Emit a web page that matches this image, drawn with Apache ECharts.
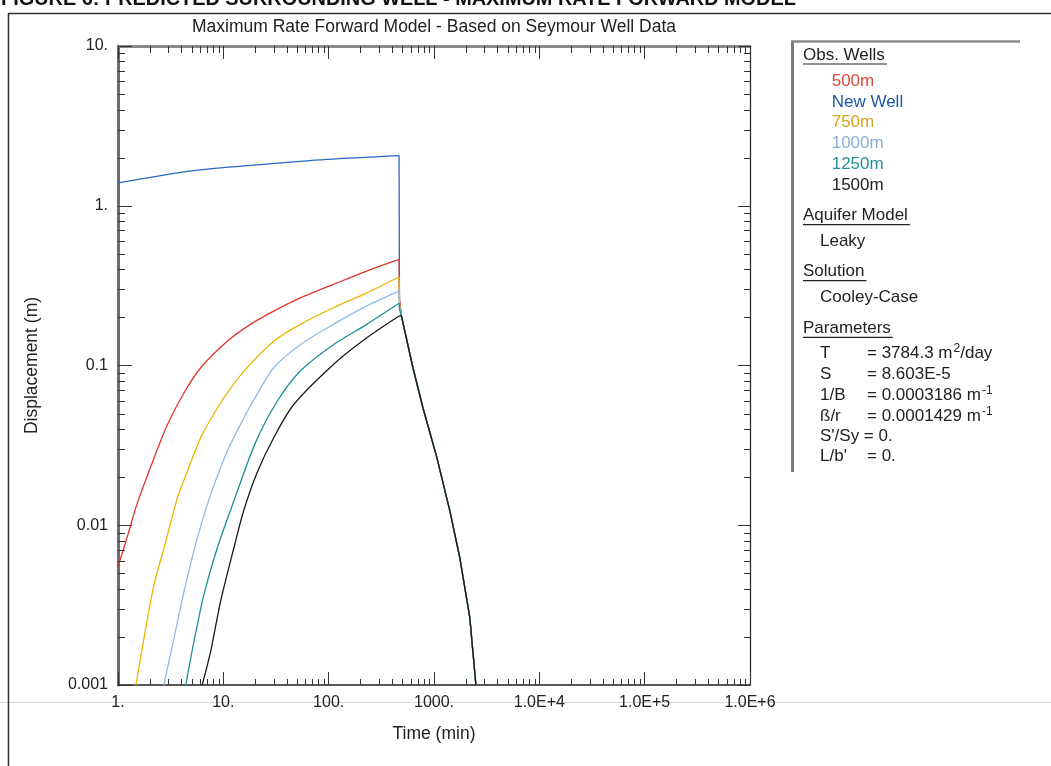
<!DOCTYPE html>
<html>
<head>
<meta charset="utf-8">
<script src="https://cdn.jsdelivr.net/npm/echarts@6/dist/echarts.min.js"></script>
<style>
html,body{margin:0;padding:0;background:#fff;}
#chart{width:1051px;height:766px;}
</style>
</head>
<body>
<div id="chart"></div>
<script>
// ---------- data ----------
const tNew  = [1, 5.27, 22.5, 96.4, 466];
const sNew  = [1.39, 1.66, 1.81, 1.95, 2.06];

const t500  = [1, 1.24, 1.54, 2.2, 2.95, 4.24, 6.1, 10.9, 18.1, 30.1, 53.8, 111, 230, 466];
const s500  = [0.0055, 0.0087, 0.0140, 0.0264, 0.0427, 0.0675, 0.0968, 0.142, 0.181, 0.219, 0.265, 0.322, 0.390, 0.461];

const t750  = [1.48, 1.77, 2.2, 2.74, 3.67, 4.56, 6.1, 8.15, 10.1, 15.7, 30.1, 53.8, 111, 230, 466];
const s750  = [0.001, 0.00198, 0.00426, 0.00723, 0.0149, 0.0218, 0.0353, 0.0500, 0.0628, 0.0923, 0.142, 0.181, 0.230, 0.285, 0.358];

const t1000 = [2.72, 3.41, 4.24, 5.67, 7.59, 10.9, 15.7, 18.1, 30.1, 53.8, 111, 230, 466];
const s1000 = [0.001, 0.00198, 0.00387, 0.00835, 0.0156, 0.0291, 0.0471, 0.0560, 0.0968, 0.135, 0.181, 0.236, 0.292];

const t1250 = [4.4, 5.27, 6.55, 8.77, 12.6, 20.2, 32.4, 53.8, 111, 230, 466];
const s1250 = [0.001, 0.00188, 0.00369, 0.00723, 0.0142, 0.0329, 0.0595, 0.0923, 0.135, 0.181, 0.245];

const t1500 = [6.3, 7.59, 9.43, 12.6, 15.7, 21, 30.1, 46.6, 111, 230, 466];
const s1500 = [0.001, 0.00163, 0.00335, 0.00723, 0.0125, 0.0215, 0.0353, 0.057, 0.1016, 0.149, 0.204];

// value right after pumping stops (near-vertical drop), per series
const dropT = 470;
const dropNew = 0.26, drop500 = 0.26, drop750 = 0.245, drop1000 = 0.235, drop1250 = 0.225;

// common recovery curve
const recT = [490, 631, 785, 1065, 1414, 1758, 2187, 2500];
const recS = [0.205, 0.0968, 0.0544, 0.0265, 0.0123, 0.00626, 0.00264, 0.001];

const seriesNames = ['500m', 'New Well', '750m', '1000m', '1250m', '1500m'];
const xTickLabels = ['1.', '10.', '100.', '1000.', '1.0E+4', '1.0E+5', '1.0E+6'];
const yTickLabels = ['0.001', '0.01', '0.1', '1.', '10.'];
const xDecades = [1, 10, 100, 1000, 10000, 100000];
const yDecades = [0.001, 0.01, 0.1, 1];
const minorMultipliers = [2, 3, 4, 5, 6, 7, 8, 9];

const paramLabels = ['T', 'S', '1/B', '\u00DF/r'];
const paramValues = ['= 3784.3 m{sup|2}/day', '= 8.603E-5', '= 0.0003186 m{sup|-1}', '= 0.0001429 m{sup|-1}'];

// ---------- helpers ----------
const X_MIN = 1, X_MAX = 1e6, Y_MIN = 0.001, Y_MAX = 10;
const FONT = '"Liberation Sans", Arial, sans-serif';
function pairs(t, s) { return t.map((x, i) => [x, s[i]]); }
function recovery(t, s, drop) {
  const last = t.length - 1;
  let d = [[t[last], s[last]]];
  if (drop != null) d.push([dropT, drop]);
  return d.concat(pairs(recT, recS));
}
const xMinor = [], yMinor = [];
xDecades.forEach(d => minorMultipliers.forEach(m => xMinor.push([d * m, Y_MIN])));
yDecades.forEach(d => minorMultipliers.forEach(m => yMinor.push([X_MIN, d * m])));

const colors = {
  '500m': '#e0362c', 'New Well': '#2a68c4', '750m': '#f0b400',
  '1000m': '#8fbbe6', '1250m': '#1c8f9b', '1500m': '#1a1a1a'
};
const textColors = {
  '500m': '#e0453a', 'New Well': '#1f56a8', '750m': '#d6a21c',
  '1000m': '#86aed8', '1250m': '#23909a', '1500m': '#222'
};

const measureCtx = document.createElement('canvas').getContext('2d');
function textWidth(txt, size) { measureCtx.font = size + 'px ' + FONT; return measureCtx.measureText(txt).width; }

function lineSeries(name, data, smooth, z) {
  return {
    name: name, type: 'line', data: data, showSymbol: false, symbol: 'none',
    smooth: smooth,
    lineStyle: { color: colors[name], width: 1.3 }, itemStyle: { color: colors[name] },
    animation: false, z: z
  };
}

// ---------- graphic (legend panel text etc.) ----------
const LSIZE = 17;
const graphics = [];
graphics.push({ type: 'line', shape: { x1: 8, y1: 13.5, x2: 1051, y2: 13.5 }, style: { stroke: '#333', lineWidth: 1.5 } });
graphics.push({ type: 'line', shape: { x1: 8.5, y1: 13, x2: 8.5, y2: 766 }, style: { stroke: '#333', lineWidth: 1.5 } });
graphics.push({ type: 'line', shape: { x1: 0, y1: 702.5, x2: 1051, y2: 702.5 }, style: { stroke: '#d4d4d4', lineWidth: 1 }, z: -1 });
graphics.push({ type: 'text', x: 1, y: 0, style: { text: 'FIGURE 6: PREDICTED SURROUNDING WELL - MAXIMUM RATE FORWARD MODEL', font: 'bold 19.9px ' + FONT, fill: '#111', verticalAlign: 'middle' } });
graphics.push({ type: 'line', shape: { x1: 792.5, y1: 41, x2: 792.5, y2: 472 }, style: { stroke: '#7a7a7a', lineWidth: 3 } });
graphics.push({ type: 'line', shape: { x1: 791, y1: 41.5, x2: 1020, y2: 41.5 }, style: { stroke: '#8a8a8a', lineWidth: 2.5 } });

const headings = [['Obs. Wells', 55], ['Aquifer Model', 215.7], ['Solution', 271.7], ['Parameters', 328.3]];
headings.forEach(h => {
  graphics.push({ type: 'text', x: 803, y: h[1], style: { text: h[0], fontSize: LSIZE, fontFamily: FONT, fill: '#222', verticalAlign: 'middle' } });
  const w = textWidth(h[0], LSIZE);
  graphics.push({ type: 'line', shape: { x1: 803, y1: h[1] + 9, x2: 803 + w + 2, y2: h[1] + 9 }, style: { stroke: '#222', lineWidth: 1.2 } });
});
graphics.push({ type: 'text', x: 820, y: 241.7, style: { text: 'Leaky', fontSize: LSIZE, fontFamily: FONT, fill: '#222', verticalAlign: 'middle' } });
graphics.push({ type: 'text', x: 820, y: 297.7, style: { text: 'Cooley-Case', fontSize: LSIZE, fontFamily: FONT, fill: '#222', verticalAlign: 'middle' } });

const paramY = [353.5, 374.5, 395.3, 416.2, 436.5, 456.5];
const richStyle = {
  n: { fontSize: LSIZE, fontFamily: FONT, fill: '#222', lineHeight: 22 },
  sup: { fontSize: 12, fontFamily: FONT, fill: '#222', verticalAlign: 'top', lineHeight: 12, padding: [0, 0, 0, 1] }
};
paramLabels.forEach((lab, i) => {
  graphics.push({ type: 'text', x: 820, y: paramY[i], style: { text: lab, fontSize: LSIZE, fontFamily: FONT, fill: '#222', verticalAlign: 'middle' } });
  const txt = paramValues[i].replace(/^([^{]+)/, '{n|$1}').replace(/\}([^{]+)$/, '}{n|$1}').replace(/\}([^{}]+)\{/g, '}{n|$1}{');
  graphics.push({ type: 'text', x: 867, y: paramY[i], style: { text: txt.indexOf('{') === 0 ? txt : '{n|' + txt + '}', rich: richStyle, verticalAlign: 'middle' } });
});
graphics.push({ type: 'text', x: 820, y: paramY[4], style: { text: "S'/Sy = 0.", fontSize: LSIZE, fontFamily: FONT, fill: '#222', verticalAlign: 'middle' } });
graphics.push({ type: 'text', x: 820, y: paramY[5], style: { text: "L/b'", fontSize: LSIZE, fontFamily: FONT, fill: '#222', verticalAlign: 'middle' } });
graphics.push({ type: 'text', x: 867, y: paramY[5], style: { text: '= 0.', fontSize: LSIZE, fontFamily: FONT, fill: '#222', verticalAlign: 'middle' } });

// ---------- chart ----------
const chart = echarts.init(document.getElementById('chart'), null, { renderer: 'canvas' });

const axisTickStyle = { color: '#333', width: 1 };
const wells = [
  ['New Well', tNew, sNew, dropNew],
  ['500m', t500, s500, drop500],
  ['750m', t750, s750, drop750],
  ['1000m', t1000, s1000, drop1000],
  ['1250m', t1250, s1250, drop1250],
  ['1500m', t1500, s1500, null]
];
const wellSeries = [];
wells.forEach((w, i) => {
  wellSeries.push(lineSeries(w[0], pairs(w[1], w[2]), 0.3, 3 + i * 0.01));
  wellSeries.push(lineSeries(w[0], recovery(w[1], w[2], w[3]), false, 3 + i * 0.01));
});

const option = {
  animation: false,
  backgroundColor: '#fff',
  title: {
    text: 'Maximum Rate Forward Model - Based on Seymour Well Data',
    left: 434, top: 18, textAlign: 'center', padding: 0,
    textStyle: { fontSize: 17.5, fontWeight: 'normal', fontFamily: FONT, color: '#222' }
  },
  legend: {
    orient: 'vertical', left: 826.7, top: 71, padding: 0, itemGap: 0,
    itemWidth: 0, itemHeight: 0, icon: 'rect', selectedMode: false,
    itemStyle: { opacity: 0 }, lineStyle: { opacity: 0 },
    textStyle: { fontSize: LSIZE, fontFamily: FONT, lineHeight: 20.7, padding: 0 },
    data: seriesNames.map(n => ({ name: n, textStyle: { color: textColors[n] } }))
  },
  grid: { left: 118, right: 301, top: 46, bottom: 81, containLabel: false, outerBoundsMode: 'none' },
  xAxis: [
    {
      type: 'log', logBase: 10, min: X_MIN, max: X_MAX, position: 'bottom',
      name: 'Time (min)', nameLocation: 'middle', nameGap: 40,
      nameTextStyle: { fontSize: 17.5, fontFamily: FONT, color: '#222' },
      axisLine: { show: true, lineStyle: { color: '#222', width: 1.5 } },
      axisTick: { show: true, inside: true, length: 13, lineStyle: axisTickStyle },
      axisLabel: { show: true, margin: 10, fontSize: 16, fontFamily: FONT, color: '#222',
        formatter: v => xTickLabels[Math.round(Math.log10(v))] },
      splitLine: { show: false }, minorTick: { show: false }
    },
    {
      type: 'log', logBase: 10, min: X_MIN, max: X_MAX, position: 'top',
      axisLine: { show: true, lineStyle: { color: '#8a8a8a', width: 3 } },
      axisTick: { show: true, inside: true, length: 13, lineStyle: axisTickStyle },
      axisLabel: { show: false }, splitLine: { show: false }
    }
  ],
  yAxis: [
    {
      type: 'log', logBase: 10, min: Y_MIN, max: Y_MAX, position: 'left',
      name: 'Displacement (m)', nameLocation: 'middle', nameGap: 77,
      nameTextStyle: { fontSize: 17.5, fontFamily: FONT, color: '#222' },
      axisLine: { show: true, lineStyle: { color: '#6e6e6e', width: 3 } },
      axisTick: { show: true, inside: true, length: 14, lineStyle: axisTickStyle },
      axisLabel: { show: true, margin: 10, fontSize: 16, fontFamily: FONT, color: '#222',
        formatter: v => yTickLabels[Math.round(Math.log10(v)) + 3] },
      splitLine: { show: false }
    },
    {
      type: 'log', logBase: 10, min: Y_MIN, max: Y_MAX, position: 'right',
      axisLine: { show: true, lineStyle: { color: '#222', width: 1.2 } },
      axisTick: { show: true, inside: true, length: 12, lineStyle: axisTickStyle },
      axisLabel: { show: false }, splitLine: { show: false }
    }
  ],
  graphic: graphics,
  series: [
    {
      name: 'xMinorTicks', type: 'custom', data: xMinor, silent: true, clip: false, z: 4,
      encode: { x: 0, y: 1 },
      renderItem: (params, api) => {
        const v = api.value(0);
        const b = api.coord([v, Y_MIN]), t = api.coord([v, Y_MAX]);
        const x = Math.round(b[0]) + 0.5;
        return { type: 'group', children: [
          { type: 'line', shape: { x1: x, y1: b[1], x2: x, y2: b[1] - 6 }, style: { stroke: '#333', lineWidth: 1 } },
          { type: 'line', shape: { x1: x, y1: t[1], x2: x, y2: t[1] + 7 }, style: { stroke: '#333', lineWidth: 1 } }
        ] };
      }
    },
    {
      name: 'yMinorTicks', type: 'custom', data: yMinor, silent: true, clip: false, z: 4,
      encode: { x: 0, y: 1 },
      renderItem: (params, api) => {
        const v = api.value(1);
        const l = api.coord([X_MIN, v]), r = api.coord([X_MAX, v]);
        const y = Math.round(l[1]) + 0.5;
        return { type: 'group', children: [
          { type: 'line', shape: { x1: l[0], y1: y, x2: l[0] + 7, y2: y }, style: { stroke: '#333', lineWidth: 1 } },
          { type: 'line', shape: { x1: r[0], y1: y, x2: r[0] - 6, y2: y }, style: { stroke: '#333', lineWidth: 1 } }
        ] };
      }
    }
  ].concat(wellSeries)
};
chart.setOption(option);
</script>
</body>
</html>
